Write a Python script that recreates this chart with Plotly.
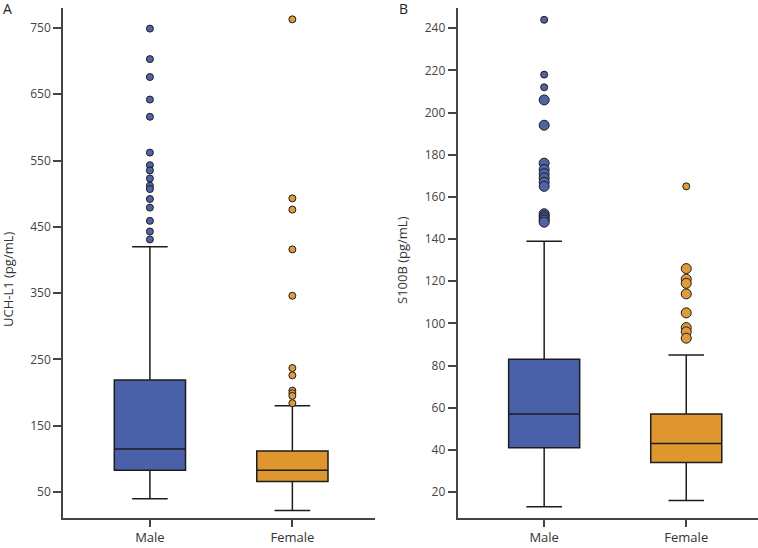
import plotly.graph_objects as go

# ---------------- data ----------------
categories = ["Male", "Female"]

# Panel A: UCH-L1 (pg/mL)
uch_q1 = [83, 66]
uch_median = [115, 83]
uch_q3 = [219, 112]
uch_lower = [40, 22]
uch_upper = [420, 180]
uch_male_outliers = [749, 703, 676, 642, 616, 562, 543, 535, 523, 512, 507, 492, 479, 459, 443, 431]
uch_female_outliers = [763, 493, 476, 416, 346, 237, 226, 203, 199, 195, 184]
uch_ticks = [50, 150, 250, 350, 450, 550, 650, 750]

# Panel B: S100B (pg/mL)
s100b_q1 = [41, 34]
s100b_median = [57, 43]
s100b_q3 = [83, 57]
s100b_lower = [13, 16]
s100b_upper = [139, 85]
s100b_male_out_single = [244, 218, 212]
s100b_male_out_multi = [206, 194, 176, 173, 171, 169, 167, 165, 152, 151, 150, 149, 148]
s100b_female_out_single = [165]
s100b_female_out_multi = [126, 121, 119, 114, 105, 98, 96, 93]
s100b_ticks = [20, 40, 60, 80, 100, 120, 140, 160, 180, 200, 220, 240]

# ---------------- style ----------------
BLUE = "#4A61A9"
ORANGE = "#E0962F"
BLUE_PT = "#4F63A6"
ORANGE_PT = "#DF9A3C"
EDGE = "#1c1c1c"
AXIS = "#444444"
FONT = "Open Sans"
W, H = 758, 548
MT, MB = 8, 30

fig = go.Figure()

colors = [BLUE, ORANGE]


def add_boxes(q1, med, q3, lo, hi, xa, ya):
    for i, cat in enumerate(categories):
        fig.add_trace(go.Box(
            x=[cat], q1=[q1[i]], median=[med[i]], q3=[q3[i]],
            lowerfence=[lo[i]], upperfence=[hi[i]],
            boxpoints=False, fillcolor=colors[i],
            line=dict(color=EDGE, width=1.5),
            width=0.5, whiskerwidth=0.5,
            xaxis=xa, yaxis=ya, showlegend=False, hoverinfo="skip",
        ))


def add_points(cat, vals, color, size, xa, ya):
    fig.add_trace(go.Scatter(
        x=[cat] * len(vals), y=vals, mode="markers",
        marker=dict(color=color, size=size, line=dict(color=EDGE, width=1)),
        xaxis=xa, yaxis=ya, showlegend=False, hoverinfo="skip",
    ))


add_boxes(uch_q1, uch_median, uch_q3, uch_lower, uch_upper, "x", "y")
add_points("Male", uch_male_outliers, BLUE_PT, 7, "x", "y")
add_points("Female", uch_female_outliers, ORANGE_PT, 7, "x", "y")

add_boxes(s100b_q1, s100b_median, s100b_q3, s100b_lower, s100b_upper, "x2", "y2")
add_points("Male", s100b_male_out_single, BLUE_PT, 7, "x2", "y2")
add_points("Male", s100b_male_out_multi, BLUE_PT, 10, "x2", "y2")
add_points("Female", s100b_female_out_single, ORANGE_PT, 7, "x2", "y2")
add_points("Female", s100b_female_out_multi, ORANGE_PT, 10, "x2", "y2")

xaxis_common = dict(
    type="category", categoryorder="array", categoryarray=categories,
    showline=True, linecolor=AXIS, linewidth=1.5,
    ticks="outside", ticklen=7, tickcolor=AXIS, tickwidth=1.5,
    showgrid=False, zeroline=False,
    tickfont=dict(family=FONT, size=13, color="#333333"),
)
yaxis_common = dict(
    showline=True, linecolor=AXIS, linewidth=1.5,
    ticks="outside", ticklen=8, tickcolor=AXIS, tickwidth=1.5,
    showgrid=False, zeroline=False,
    tickfont=dict(family=FONT, size=12, color="#444444"),
)


def px(p):
    return p / W


fig.update_layout(
    width=W, height=H,
    margin=dict(l=0, r=0, t=MT, b=MB),
    paper_bgcolor="white", plot_bgcolor="white",
    boxmode="overlay",
    xaxis=dict(xaxis_common, domain=[px(63), px(375)], range=[-0.61, 1.58], anchor="y"),
    yaxis=dict(yaxis_common, range=[10.8, 780.1], tickvals=uch_ticks, anchor="x"),
    xaxis2=dict(xaxis_common, domain=[px(457.5), 1.0], range=[-0.61, 1.505], anchor="y2"),
    yaxis2=dict(yaxis_common, range=[7.7, 249.6], tickvals=s100b_ticks, anchor="x2"),
    font=dict(family=FONT),
    hovermode=False,
)

ph = H - MT - MB


def py(p):
    return (H - MB - p) / ph


fig.add_annotation(text="A", x=px(7), y=py(9), xref="paper", yref="paper",
                   showarrow=False, xanchor="center", yanchor="middle",
                   font=dict(family=FONT, size=14, color="#222222"))
fig.add_annotation(text="B", x=px(403), y=py(9), xref="paper", yref="paper",
                   showarrow=False, xanchor="center", yanchor="middle",
                   font=dict(family=FONT, size=14, color="#222222"))
fig.add_annotation(text="UCH-L1 (pg/mL)", x=px(8), y=py(280), xref="paper", yref="paper",
                   showarrow=False, xanchor="center", yanchor="middle", textangle=-90,
                   font=dict(family=FONT, size=13, color="#333333"))
fig.add_annotation(text="S100B (pg/mL)", x=px(402), y=py(260), xref="paper", yref="paper",
                   showarrow=False, xanchor="center", yanchor="middle", textangle=-90,
                   font=dict(family=FONT, size=13, color="#333333"))

fig.write_html("out.html", config={"displayModeBar": False},
               post_script="document.body.style.margin='0';")
